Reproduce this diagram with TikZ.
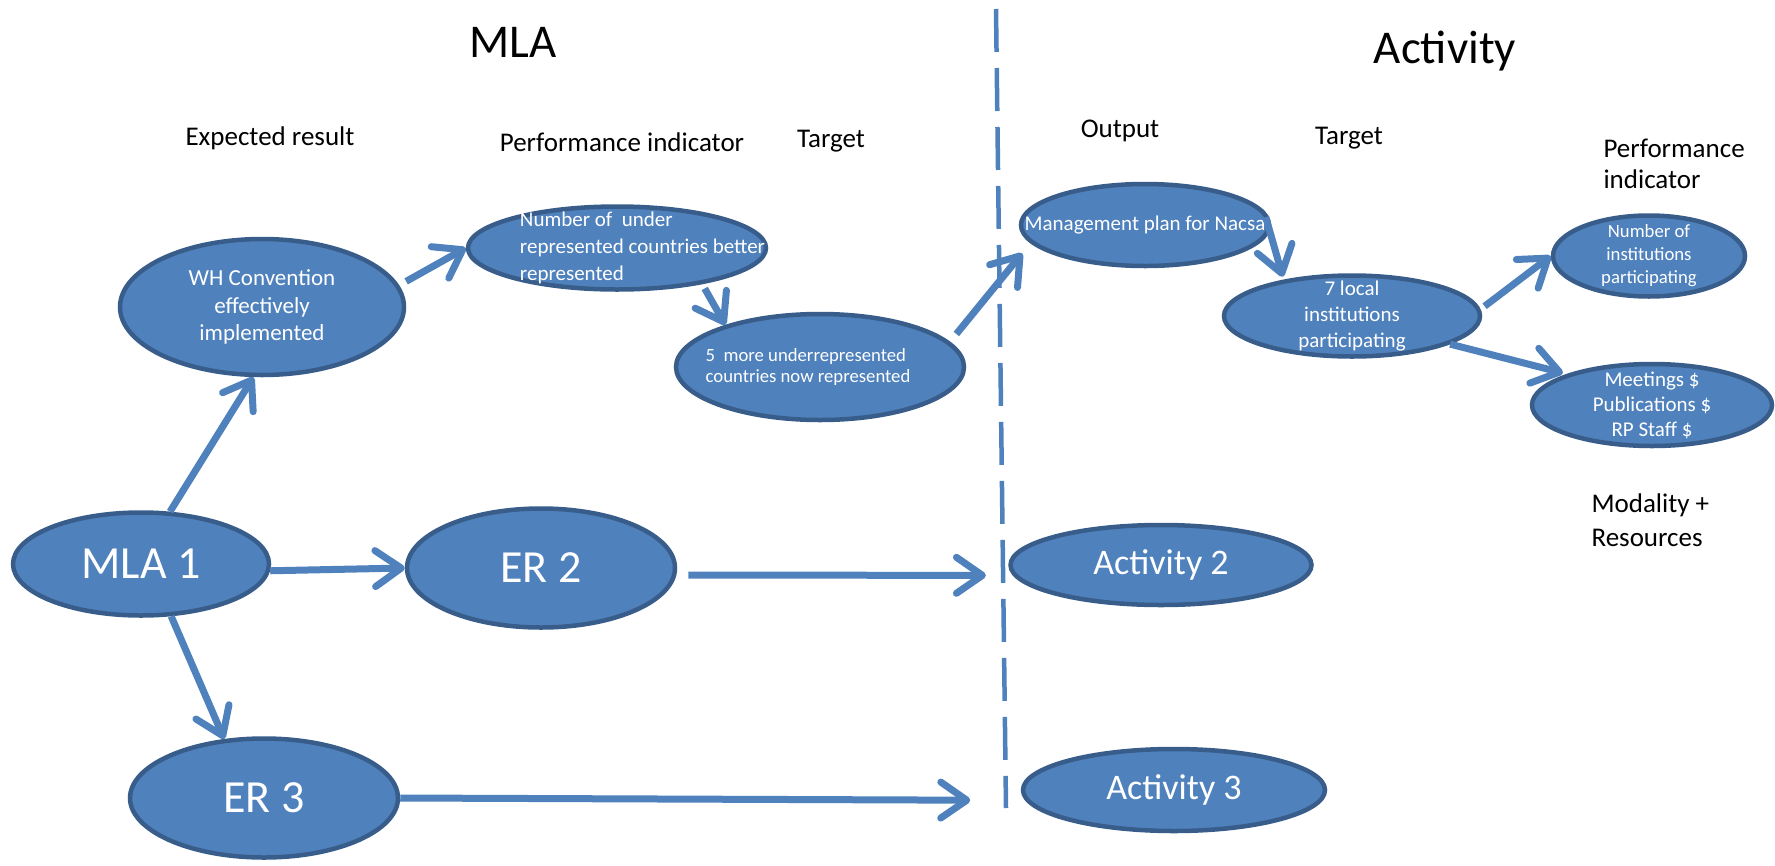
\documentclass[tikz,border=0pt]{standalone}
\usepackage{fontspec}
\setmainfont{Carlito}
\usetikzlibrary{shapes.geometric,arrows.meta}
\definecolor{ellfill}{HTML}{4F81BD}
\definecolor{ellborder}{HTML}{385D8A}
\definecolor{arrowblue}{HTML}{4F81BD}
\begin{document}
\begin{tikzpicture}[x=1pt,y=-1pt,
  ell/.style={ellipse, draw=ellborder, fill=ellfill, line width=4.5pt, text=white,
    inner xsep=-300pt, inner ysep=-100pt, align=center},
  conn/.style={draw=arrowblue, line width=7pt, -{Straight Barb[length=26pt,width=36pt,round]}},
  head/.style={font=\fontsize{47}{56}\selectfont, anchor=base},
  sub/.style={font=\fontsize{27}{34}\selectfont, anchor=base},
]
\useasboundingbox (0,0) rectangle (1775,865);

% section titles
\node[head] (tmla) at (513,57) {MLA};
\node[head] (tact) at (1445,63) {Activity};
% column labels
\node[sub] (lexp) at (270,145) {Expected result};
\node[sub] (lperf) at (622,151) {Performance indicator};
\node[sub] (ltar1) at (831,147) {Target};
\node[sub] (lout) at (1120,137) {Output};
\node[sub] (ltar2) at (1349,144) {Target};
\node[sub, anchor=base west] (lperf2) at (1600,157) {Performance};
\node[sub, anchor=base west] (lind2) at (1600,188) {indicator};
\node[sub, anchor=base west] (lmod) at (1588,512) {Modality +};
\node[sub, anchor=base west] (lres) at (1588,546) {Resources};

% divider
\coordinate (dtop) at (996,9);
\coordinate (dbot) at (1006,808);
\draw[arrowblue, line width=4.5pt, dash pattern=on 43pt off 16pt] (dtop) -- (dbot);

% ellipses
\node[ell, minimum width=284pt, minimum height=136pt, font=\fontsize{23}{27.5}\selectfont] (wh) at (262,307)
  {WH Convention\\effectively\\implemented};
\node[ell, minimum width=298pt, minimum height=83pt, align=left, font=\fontsize{21}{27}\selectfont] (numu) at (617,248)
  {\hspace*{51pt}Number of~ under\\\hspace*{51pt}represented countries better\\\hspace*{51pt}represented};
\node[ell, minimum width=288pt, minimum height=106pt, align=left, font=\fontsize{18.7}{21}\selectfont] (five) at (820,367)
  {5~ more underrepresented\\countries now represented\hspace*{24pt}};
\node[ell, minimum width=248pt, minimum height=82pt, font=\fontsize{21}{25}\selectfont] (mgmt) at (1145,225)
  {Management plan for Nacsa};
\node[ell, minimum width=256pt, minimum height=81pt, font=\fontsize{21}{26}\selectfont] (seven) at (1352,316)
  {7 local\\institutions\\participating};
\node[ell, minimum width=192pt, minimum height=81pt, font=\fontsize{18.7}{23}\selectfont] (numi) at (1649,256)
  {Number of\\institutions\\participating};
\node[ell, minimum width=240pt, minimum height=82pt, font=\fontsize{21}{25}\selectfont] (meet) at (1652,405)
  {Meetings \$\\Publications \$\\RP Staff \$};
\node[ell, minimum width=256pt, minimum height=103pt, font=\fontsize{46}{55}\selectfont] (mla1) at (141,564) {MLA 1};
\node[ell, minimum width=268pt, minimum height=119pt, font=\fontsize{46}{55}\selectfont] (er2) at (541,568) {ER 2};
\node[ell, minimum width=268pt, minimum height=119pt, font=\fontsize{46}{55}\selectfont] (er3) at (264,798) {ER 3};
\node[ell, minimum width=301pt, minimum height=80pt, font=\fontsize{36}{43}\selectfont] (act2) at (1161,565) {Activity 2};
\node[ell, minimum width=302pt, minimum height=82pt, font=\fontsize{36}{43}\selectfont] (act3) at (1174,790) {Activity 3};

% connectors
\draw[conn] (mla1.61) -- (wh.-97);
\draw[conn, shorten <=8pt] (wh.9) -- (numu.west);
\draw[conn, shorten <=5pt] (numu.-23) -- (five.156);
\draw[conn, shorten <=10pt, shorten >=13pt] (five.11.5) -- (mgmt.-171);
\draw[conn, shorten <=7pt, shorten >=3pt] (mgmt.7) -- (seven.152);
\draw[conn, shorten <=5pt] (seven.3) -- (numi.west);
\draw[conn, shorten >=4pt] (seven.-16) -- (meet.160);
\draw[conn] (mla1.-3) -- (er2.west);
\draw[conn, shorten <=12pt, shorten >=27pt] (er2.-3) -- (act2.-176.5);
\draw[conn, shorten >=55pt] (er3.east) -- (act3.-176.6);
\draw[conn] (mla1.-60) -- (er3.124);
\end{tikzpicture}
\end{document}
